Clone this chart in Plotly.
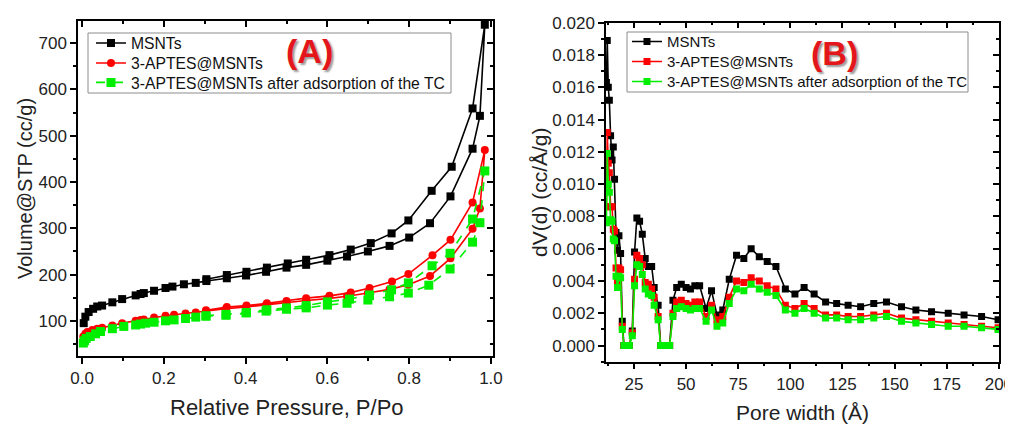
import plotly.graph_objects as go

FONT = "Liberation Sans, Arial, sans-serif"

# ---------------- Panel (A): N2 isotherms ----------------
msnt_ads_p = [0.004, 0.008, 0.016, 0.027, 0.037, 0.049, 0.074, 0.098, 0.131, 0.143, 0.151, 0.176,
              0.204, 0.221, 0.249, 0.278, 0.304, 0.354, 0.401, 0.450, 0.500, 0.548, 0.600, 0.648,
              0.699, 0.752, 0.800, 0.851, 0.901, 0.955, 0.973, 0.985]
msnt_ads_v = [95, 109, 119, 126, 131, 133, 140, 147, 155, 158, 160, 165,
              171, 174, 179, 182, 186, 192, 198, 206, 215, 221, 230, 239,
              250, 262, 280, 311, 369, 472, 543, 740]
msnt_des_p = [0.955, 0.904, 0.855, 0.798, 0.757, 0.706, 0.657, 0.605, 0.548, 0.503, 0.452, 0.402, 0.354, 0.304]
msnt_des_v = [559, 433, 381, 317, 289, 268, 254, 242, 232, 224, 215, 206, 199, 190]

aptes_ads_p = [0.003, 0.008, 0.013, 0.025, 0.037, 0.049, 0.074, 0.098, 0.131, 0.143, 0.151, 0.176,
               0.204, 0.225, 0.253, 0.278, 0.303, 0.352, 0.401, 0.450, 0.500, 0.548, 0.600, 0.648,
               0.699, 0.752, 0.798, 0.851, 0.901, 0.955, 0.973, 0.985]
aptes_ads_v = [66, 72, 76, 80, 83, 85, 90, 95, 100, 102, 103, 107,
               111, 113, 116, 118, 121, 126, 130, 135, 140, 144, 148, 153,
               160, 168, 178, 197, 235, 299, 343, 469]
aptes_des_p = [0.955, 0.901, 0.857, 0.798, 0.758, 0.703, 0.657, 0.605, 0.548, 0.500, 0.452, 0.402, 0.354, 0.303]
aptes_des_v = [356, 275, 242, 201, 185, 171, 161, 154, 149, 143, 138, 133, 130, 123]

tc_ads_p = [0.003, 0.006, 0.010, 0.020, 0.033, 0.045, 0.074, 0.102, 0.131, 0.143, 0.155, 0.176,
            0.204, 0.225, 0.253, 0.278, 0.303, 0.352, 0.401, 0.450, 0.500, 0.548, 0.600, 0.648,
            0.699, 0.752, 0.798, 0.848, 0.900, 0.955, 0.973, 0.985]
tc_ads_v = [52, 57, 62, 66, 72, 77, 83, 88, 91, 93, 95, 97,
            100, 102, 105, 108, 110, 112, 117, 121, 125, 128, 134, 138,
            145, 152, 160, 177, 212, 270, 312, 424]
tc_des_p = [0.955, 0.900, 0.856, 0.798, 0.757, 0.703, 0.654, 0.600, 0.548, 0.500, 0.452, 0.402, 0.352, 0.303]
tc_des_v = [320, 246, 219, 182, 167, 156, 147, 141, 133, 128, 124, 118, 114, 111]

# ---------------- Panel (B): pore size distribution ----------------
pore_w = [11.8, 12.2, 12.7, 13.2, 13.8, 14.5, 15.1, 15.7, 16.4, 17.1, 17.8, 18.6, 19.4,
          20.2, 21.5, 22.8, 24.2, 25.3, 26.4, 27.7, 29.0, 30.4, 31.9, 33.5, 34.7, 36.6,
          37.8, 39.7, 42.1, 43.7, 45.5, 47.7, 50.0, 52.1, 54.2, 56.5, 59.6, 62.2, 64.8,
          67.6, 70.7, 74.2, 77.7, 81.2, 85.1, 88.9, 93.1, 97.6, 102.2, 106.6, 111.4, 116.9,
          122.2, 127.7, 133.7, 140.0, 146.1, 153.3, 160.2, 167.7, 175.7, 183.3, 191.7, 199.6]
dv_msnt = [0.0163, 0.0189, 0.0160, 0.0152, 0.0130, 0.0115, 0.0123, 0.0103, 0.0070, 0.0059, 0.0068, 0.0057, 0.0015,
           0.0, 0.0, 0.0, 0.0009, 0.0058, 0.0079, 0.0077, 0.0069, 0.0054, 0.0049, 0.0049, 0.0036, 0.0025,
           0.0, 0.0, 0.0, 0.0028, 0.0036, 0.0038, 0.0036, 0.0035, 0.0037, 0.0037, 0.0023, 0.0034, 0.0019,
           0.0022, 0.0041, 0.0056, 0.0054, 0.0060, 0.0055, 0.0052, 0.0049, 0.0035, 0.0032, 0.0036, 0.0032, 0.0027,
           0.0026, 0.0025, 0.0024, 0.0026, 0.0027, 0.0024, 0.0022, 0.0021, 0.0020, 0.0019, 0.0018, 0.0016]
dv_aptes = [0.0086, 0.0132, 0.0113, 0.0107, 0.0086, 0.0086, 0.0072, 0.0071, 0.0048, 0.0040, 0.0048, 0.0047, 0.0012,
            0.0, 0.0, 0.0, 0.0008, 0.0041, 0.0056, 0.0054, 0.0050, 0.0039, 0.0038, 0.0035, 0.0030, 0.0018,
            0.0, 0.0, 0.0, 0.0020, 0.0027, 0.0028, 0.0026, 0.0025, 0.0027, 0.0027, 0.0018, 0.0025, 0.0016,
            0.0018, 0.0030, 0.0040, 0.0039, 0.0042, 0.0040, 0.0037, 0.0035, 0.0025, 0.0023, 0.0026, 0.0023, 0.0019,
            0.0019, 0.0018, 0.0018, 0.0019, 0.0020, 0.0017, 0.0016, 0.0015, 0.0014, 0.0013, 0.0012, 0.0011]
dv_tc = [0.0076, 0.0119, 0.0100, 0.0095, 0.0078, 0.0077, 0.0066, 0.0065, 0.0043, 0.0036, 0.0043, 0.0042, 0.0010,
         0.0, 0.0, 0.0, 0.0006, 0.0037, 0.0050, 0.0049, 0.0044, 0.0035, 0.0032, 0.0031, 0.0025, 0.0016,
         0.0, 0.0, 0.0, 0.0018, 0.0023, 0.0024, 0.0023, 0.0022, 0.0023, 0.0023, 0.0015, 0.0022, 0.0012,
         0.0014, 0.0026, 0.0035, 0.0034, 0.0038, 0.0035, 0.0033, 0.0031, 0.0022, 0.0020, 0.0023, 0.0020, 0.0017,
         0.0017, 0.0016, 0.0016, 0.0017, 0.0018, 0.0015, 0.0014, 0.0013, 0.0012, 0.0012, 0.0011, 0.0010]

names = ["MSNTs", "3-APTES@MSNTs", "3-APTES@MSNTs after adsorption of the TC"]
BLACK, RED, GREEN = "#000000", "#ff0000", "#00ee00"

# page body has an 8px margin: figure occupies screen pixels 8..1013 x 8..427
OFF = 8
W, H = 1013 - OFF, 427 - OFF


def px(x):
    return (x - OFF) / W


def py(y):
    return 1 - (y - OFF) / H


fig = go.Figure()

# Panel A traces (each in its own single-entry legend so rows can be spaced like the original)
fig.add_trace(go.Scatter(x=msnt_ads_p + msnt_des_p, y=msnt_ads_v + msnt_des_v, name=names[0],
                         mode="lines+markers", line=dict(color=BLACK, width=1.6),
                         marker=dict(symbol="square", size=8, color=BLACK),
                         xaxis="x", yaxis="y", legend="legend"))
fig.add_trace(go.Scatter(x=aptes_ads_p + aptes_des_p, y=aptes_ads_v + aptes_des_v, name=names[1],
                         mode="lines+markers", line=dict(color=RED, width=1.6),
                         marker=dict(symbol="circle", size=8, color=RED),
                         xaxis="x", yaxis="y", legend="legend3"))
fig.add_trace(go.Scatter(x=tc_ads_p + tc_des_p, y=tc_ads_v + tc_des_v, name=names[2],
                         mode="lines+markers", line=dict(color=GREEN, width=1.6, dash="dash"),
                         marker=dict(symbol="square", size=9, color=GREEN),
                         xaxis="x", yaxis="y", legend="legend4"))

# Panel B traces
for vals, nm, col, lg in [(dv_msnt, names[0], BLACK, "legend2"), (dv_aptes, names[1], RED, "legend5"),
                          (dv_tc, names[2], GREEN, "legend6")]:
    fig.add_trace(go.Scatter(x=pore_w, y=vals, name=nm, mode="lines+markers",
                             line=dict(color=col, width=1.6),
                             marker=dict(symbol="square", size=7, color=col),
                             xaxis="x2", yaxis="y2", legend=lg))

# empty traces to activate the mirrored (inward-tick) frame axes
fig.add_trace(go.Scatter(x=[], y=[], xaxis="x3", yaxis="y3", showlegend=False, hoverinfo="skip"))
fig.add_trace(go.Scatter(x=[], y=[], xaxis="x4", yaxis="y4", showlegend=False, hoverinfo="skip"))

TICKFONT = dict(family=FONT, size=17, color="#222")


def ax(rng, dtick, minor_dtick, ticks, labels, **kw):
    d = dict(range=rng, showline=True, linecolor="black", linewidth=1.5,
             ticks=ticks, ticklen=6, tickwidth=1.5, tickcolor="black",
             dtick=dtick, tick0=0, showgrid=False, zeroline=False, automargin=False,
             showticklabels=labels, tickfont=TICKFONT, ticklabeloverflow="allow",
             minor=dict(ticks=ticks, ticklen=3, dtick=minor_dtick, tick0=0,
                        tickcolor="black", tickwidth=1.5, showgrid=False))
    d.update(kw)
    return d


XA = [-0.01, 1.005]
YA = [24, 748]
XB = [11.6, 200.05]
YB = [-0.001, 0.020]
dA_x = [px(78), px(493)]
dA_y = [py(356), py(21)]
dB_x = [px(606), px(999)]
dB_y = [py(361.7), py(22.7)]


def leg(xp, yp, size):
    return dict(x=px(xp), y=py(yp), xanchor="left", yanchor="middle",
                borderwidth=0, bgcolor="rgba(0,0,0,0)",
                font=dict(family=FONT, size=size, color="#111"))


fig.update_layout(
    width=W, height=H,
    margin=dict(l=0, r=0, t=0, b=0, pad=0, autoexpand=False),
    paper_bgcolor="white", plot_bgcolor="white",
    font=dict(family=FONT, color="#222"),
    xaxis=ax(XA, 0.2, 0.1, "outside", True, domain=dA_x, anchor="y", tickformat=".1f"),
    yaxis=ax(YA, 100, 50, "outside", True, domain=dA_y, anchor="x"),
    xaxis3=ax(XA, 0.2, 0.1, "inside", False, overlaying="x", side="top", anchor="y"),
    yaxis3=ax(YA, 100, 50, "inside", False, overlaying="y", side="right", anchor="x"),
    xaxis2=ax(XB, 25, 12.5, "outside", True, domain=dB_x, anchor="y2"),
    yaxis2=ax(YB, 0.002, 0.001, "outside", True, domain=dB_y, anchor="x2", tickformat=".3f"),
    xaxis4=ax(XB, 25, 12.5, "inside", False, overlaying="x2", side="top", anchor="y2"),
    yaxis4=ax(YB, 0.002, 0.001, "inside", False, overlaying="y2", side="right", anchor="x2"),
    legend=leg(91, 43.3, 15.7),
    legend3=leg(91, 63.3, 15.7),
    legend4=leg(91, 82.7, 15.7),
    legend2=leg(627, 41.7, 15),
    legend5=leg(627, 61.7, 15),
    legend6=leg(627, 81.7, 15),
    showlegend=True,
)

# legend frames
fig.add_shape(type="rect", xref="paper", yref="paper", x0=px(88), x1=px(451), y0=py(93), y1=py(33),
              line=dict(color="#8c8c8c", width=1), fillcolor="rgba(0,0,0,0)", layer="above")
fig.add_shape(type="rect", xref="paper", yref="paper", x0=px(627), x1=px(968), y0=py(92), y1=py(32),
              line=dict(color="#8c8c8c", width=1), fillcolor="rgba(0,0,0,0)", layer="above")

LABEL = dict(family=FONT, size=34, color="#e3161b", weight="bold", shadow="2px 2px 2px #9a9a9a")
fig.add_annotation(text="Relative Pressure, P/Po", xref="paper", yref="paper",
                   x=px(287), y=py(407), xanchor="center", yanchor="middle",
                   showarrow=False, font=dict(family=FONT, size=22, color="#222"))
fig.add_annotation(text="Volume@STP (cc/g)", xref="paper", yref="paper",
                   x=px(25), y=py(189), xanchor="center", yanchor="middle",
                   textangle=-90, showarrow=False, font=dict(family=FONT, size=20, color="#222"))
fig.add_annotation(text="Pore width (Å)", xref="paper", yref="paper",
                   x=px(802), y=py(412), xanchor="center", yanchor="middle",
                   showarrow=False, font=dict(family=FONT, size=21, color="#222"))
fig.add_annotation(text="dV(d) (cc/Å/g)", xref="paper", yref="paper",
                   x=px(539), y=py(192), xanchor="center", yanchor="middle",
                   textangle=-90, showarrow=False, font=dict(family=FONT, size=21, color="#222"))
fig.add_annotation(text="(A)", xref="paper", yref="paper",
                   x=px(309), y=py(51), xanchor="center", yanchor="middle",
                   showarrow=False, font=LABEL)
fig.add_annotation(text="(B)", xref="paper", yref="paper",
                   x=px(834), y=py(53), xanchor="center", yanchor="middle",
                   showarrow=False, font=LABEL)

fig.write_html("out.html")
